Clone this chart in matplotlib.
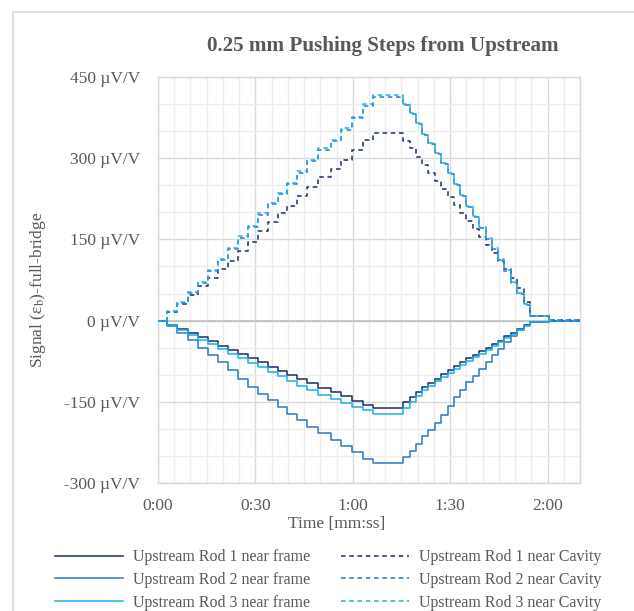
import matplotlib
matplotlib.use("Agg")
import matplotlib.pyplot as plt
from matplotlib.patches import Rectangle
from matplotlib.lines import Line2D
from matplotlib.ticker import MultipleLocator

# ---------------- data ----------------
t_start = 0.0
time_up = [2.8, 6.0, 9.2, 12.3, 15.4, 18.5, 21.6, 24.7, 27.7, 30.9, 34.0, 37.0,
           39.8, 42.7, 45.8, 49.3, 53.4, 56.5, 59.9, 63.2, 66.3]
time_down = [75.5, 77.5, 79.4, 81.4, 83.3, 85.3, 87.2, 89.2, 91.1, 93.1, 95.0,
             97.0, 98.9, 100.9, 102.8, 104.8, 106.7, 108.7, 110.6, 112.6, 114.5]
t_settle = 120.3
t_end = 130.0

rod1_frame_up = [-8, -15, -23, -31, -38, -46, -54, -61, -69, -77, -85, -93, -101,
                 -108, -116, -124, -132, -140, -148, -155, -161]
rod1_frame_down = [-151, -142, -132, -123, -115, -107, -99, -91, -84, -77, -70,
                   -64, -57, -51, -44, -37, -29, -22, -15, -8, -2]
rod1_frame_settle = 0

rod2_frame_up = [-10, -22, -36, -50, -63, -77, -92, -107, -122, -135, -147, -160,
                 -172, -184, -196, -208, -220, -232, -243, -255, -263]
rod2_frame_down = [-252, -240, -228, -214, -203, -190, -174, -158, -142, -128,
                   -114, -102, -89, -77, -64, -52, -40, -29, -18, -9, -2]
rod2_frame_settle = 0

rod3_frame_up = [-9, -17, -26, -35, -43, -52, -61, -69, -78, -86, -95, -103, -112,
                 -120, -129, -137, -145, -152, -159, -166, -172]
rod3_frame_down = [-161, -150, -139, -128, -120, -112, -104, -96, -89, -82, -75,
                   -68, -61, -54, -47, -40, -33, -26, -18, -10, -3]
rod3_frame_settle = 0

rod1_cav_up = [15, 31, 47, 63, 79, 95, 111, 128, 145, 165, 182, 198, 212, 230,
               247, 265, 280, 297, 315, 333, 347]
rod1_cav_down = [332, 318, 303, 288, 273, 258, 243, 229, 214, 199, 184, 169, 155,
                 140, 125, 110, 95, 78, 60, 35, 9]
rod1_cav_settle = 1

rod2_cav_up = [16, 33, 51, 70, 91, 112, 132, 153, 172, 195, 215, 234, 252, 273,
               294, 315, 332, 352, 374, 397, 413]
rod2_cav_down = [398, 381, 363, 343, 326, 308, 290, 270, 250, 230, 210, 191, 171,
                 151, 132, 112, 91, 70, 49, 28, 8]
rod2_cav_settle = 0

rod3_cav_up = [17, 34, 52, 72, 93, 114, 134, 156, 174, 198, 218, 236, 254, 276,
               297, 318, 334, 355, 377, 400, 416]
rod3_cav_down = [400, 383, 365, 345, 328, 310, 292, 272, 252, 232, 212, 193, 173,
                 153, 134, 114, 93, 72, 51, 30, 9]
rod3_cav_settle = 1

labels = ["Upstream Rod 1 near frame", "Upstream Rod 2 near frame",
          "Upstream Rod 3 near frame", "Upstream Rod 1 near Cavity",
          "Upstream Rod 2 near Cavity", "Upstream Rod 3 near Cavity"]
x_ticks = [0, 30, 60, 90, 120]
x_ticklabels = ["0:00", "0:30", "1:00", "1:30", "2:00"]
y_ticks = [-300, -150, 0, 150, 300, 450]
y_ticklabels = ["-300 µV/V", "-150 µV/V", "0 µV/V", "150 µV/V", "300 µV/V", "450 µV/V"]

# ---------------- styling ----------------
plt.rcParams['font.family'] = ['Liberation Serif', 'DejaVu Serif']
plt.rcParams['mathtext.fontset'] = 'stix'
grey_txt = '#595959'
c1, c2, c3 = '#182F66', '#2A78C2', '#17AFEE'

fig = plt.figure(figsize=(6.34, 6.11), dpi=100)
ax = fig.add_axes([158/634, 1-483/611, (580-158)/634, (483-77)/611])

times = [t_start] + time_up + time_down + [t_settle, t_end]

def series(up, down, settle):
    return [0] + up + down + [settle, settle]

data = [
    (series(rod1_frame_up, rod1_frame_down, rod1_frame_settle), c1, '-'),
    (series(rod2_frame_up, rod2_frame_down, rod2_frame_settle), c2, '-'),
    (series(rod3_frame_up, rod3_frame_down, rod3_frame_settle), c3, '-'),
    (series(rod1_cav_up, rod1_cav_down, rod1_cav_settle), c1, '--'),
    (series(rod2_cav_up, rod2_cav_down, rod2_cav_settle), c2, '--'),
    (series(rod3_cav_up, rod3_cav_down, rod3_cav_settle), c3, '--'),
]

dash = (0, (3.0, 2.4))
handles = []
for (vals, col, ls), lab in zip(data, labels):
    kw = dict(color=col, lw=1.1, where='post', zorder=3)
    ax.step(times, vals, linestyle=dash if ls == '--' else '-', **kw)
    handles.append(Line2D([0], [0], color=col, lw=1.1,
                          linestyle=dash if ls == '--' else '-'))

ax.set_xlim(0, 130)
ax.set_ylim(-300, 450)
ax.set_xticks(x_ticks)
ax.set_xticklabels(x_ticklabels)
ax.set_yticks(y_ticks)
ax.set_yticklabels(y_ticklabels)
ax.xaxis.set_minor_locator(MultipleLocator(5))
ax.yaxis.set_minor_locator(MultipleLocator(50))
ax.grid(which='major', color='#d9d9d9', lw=1.0, zorder=1)
ax.grid(which='minor', color='#ededed', lw=1.0, zorder=0)
ax.set_axisbelow(True)
ax.axhline(0, color='#bfbfbf', lw=1.2, zorder=2)
for s in ax.spines.values():
    s.set_color('#d9d9d9')
    s.set_linewidth(1.0)
ax.tick_params(which='both', length=0)
ax.tick_params(axis='x', pad=11, labelsize=12.5, labelcolor=grey_txt)
ax.tick_params(axis='y', pad=13, labelsize=12.5, labelcolor=grey_txt)

ax.set_xlabel("Time [mm:ss]", fontsize=12.5, color=grey_txt)
ax.xaxis.set_label_coords((337-158)/422, (483-516)/406)

fig.text(38/634, 1-290/611, r"Signal (ε$_{\mathrm{b}}$)-full-bridge", rotation=90,
         ha='center', va='center', fontsize=12.5, color=grey_txt)
fig.text(383/634, 1-46/611, "0.25 mm Pushing Steps from Upstream", ha='center',
         va='center', fontsize=15.2, fontweight='bold', color=grey_txt)

leg = fig.legend(handles, labels,
                 ncol=2, loc='center', bbox_to_anchor=(328/634, 1-580/611),
                 frameon=False, fontsize=11.5, handlelength=4.3,
                 handletextpad=0.6, columnspacing=1.9, labelspacing=0.42)
for t in leg.get_texts():
    t.set_color(grey_txt)

# outer chart border
fig.add_artist(Rectangle((13/634, -0.2), 2.0, 0.2 + 1 - 12/611,
                         transform=fig.transFigure, fill=False,
                         edgecolor='#d9d9d9', lw=1.2, clip_on=False))

fig.savefig("out.png", dpi=100)
